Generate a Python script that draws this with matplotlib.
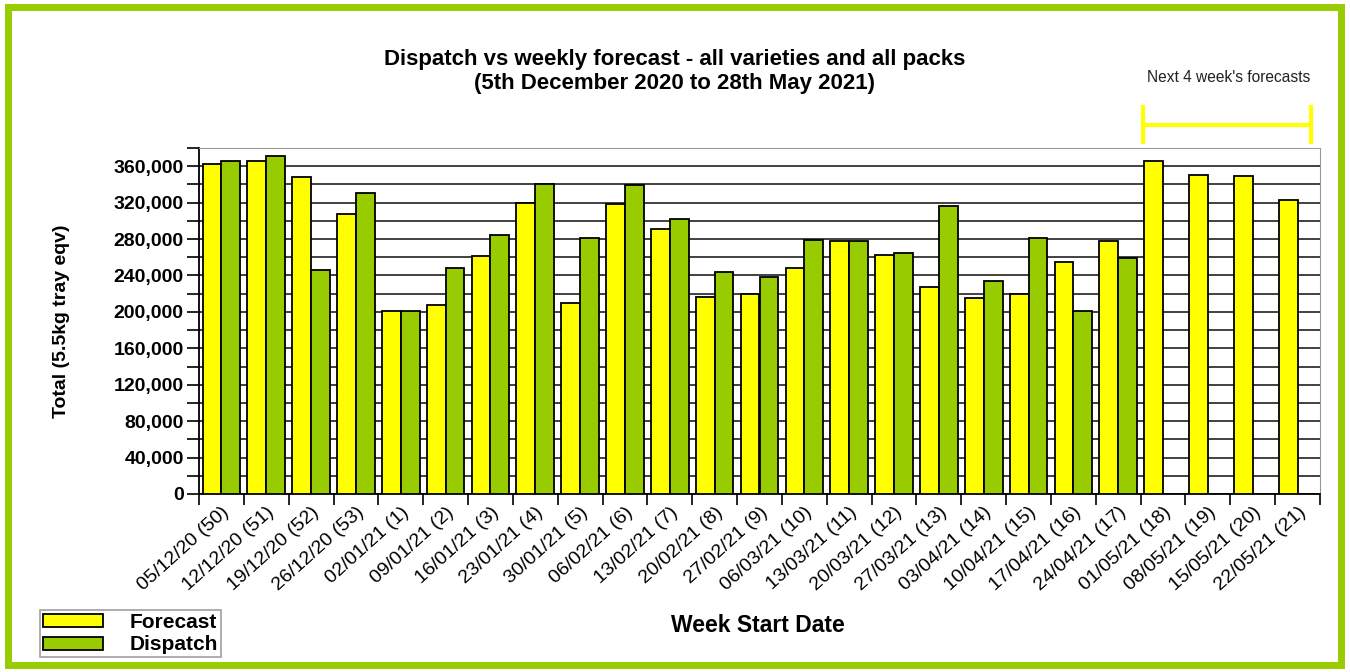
"""
Dispatch vs weekly forecast bar chart, saved as out.png.
"""

import matplotlib
matplotlib.use("Agg")
import matplotlib.pyplot as plt
from matplotlib.patches import Rectangle
from matplotlib.lines import Line2D
import numpy as np

plt.rcParams["font.family"] = ["Liberation Sans", "DejaVu Sans"]

weeks = [
    "05/12/20 (50)", "12/12/20 (51)", "19/12/20 (52)", "26/12/20 (53)",
    "02/01/21 (1)", "09/01/21 (2)", "16/01/21 (3)", "23/01/21 (4)",
    "30/01/21 (5)", "06/02/21 (6)", "13/02/21 (7)", "20/02/21 (8)",
    "27/02/21 (9)", "06/03/21 (10)", "13/03/21 (11)", "20/03/21 (12)",
    "27/03/21 (13)", "03/04/21 (14)", "10/04/21 (15)", "17/04/21 (16)",
    "24/04/21 (17)", "01/05/21 (18)", "08/05/21 (19)", "15/05/21 (20)",
    "22/05/21 (21)",
]
forecast = [
    362000, 365500, 348000, 307000, 201000, 208000, 261000, 319500,
    209500, 318500, 290500, 216500, 220000, 247700, 278000, 263000,
    227000, 215000, 219500, 254300, 278400, 365500, 350500, 348700,
    322700,
]
dispatch = [
    365500, 371000, 245500, 331000, 201000, 247700, 285000, 340000,
    281700, 339500, 302200, 244000, 238200, 278800, 278000, 264500,
    316100, 233800, 281700, 201200, 259400,
]

YELLOW = "#FFFF00"
GREEN = "#99CC00"
W, H = 1350, 672


def main():
    fig = plt.figure(figsize=(W / 100, H / 100), dpi=100)
    fig.patch.set_facecolor("white")

    # lime frame round the whole picture
    fig.patches.append(Rectangle((8 / W, 7 / H), 1333 / W, 658 / H, transform=fig.transFigure,
                                 fill=False, edgecolor=GREEN, linewidth=5))

    ax = fig.add_axes([199 / W, (H - 494) / H, 1121 / W, 346 / H])
    x = np.arange(len(weeks))
    bw = 0.42
    ax.bar(x - bw / 2, forecast, width=bw, color=YELLOW, edgecolor="black",
           linewidth=1.3, label="Forecast", zorder=3)
    xd = x[:len(dispatch)]
    ax.bar(xd + bw / 2, dispatch, width=bw, color=GREEN, edgecolor="black",
           linewidth=1.3, label="Dispatch", zorder=3)

    ax.set_xlim(-0.5, len(weeks) - 0.5)
    ax.set_ylim(0, 380000)
    ax.set_yticks(np.arange(0, 360001, 40000))
    ax.set_yticks(np.arange(0, 380001, 20000), minor=True)
    ax.set_yticklabels([f"{v:,}" for v in range(0, 360001, 40000)],
                       fontsize=14, fontweight="bold")
    ax.yaxis.grid(True, which="both", color="#333333", linewidth=1.3, zorder=0)
    ax.tick_params(axis="y", which="both", length=9, width=1.2, direction="out", pad=2)

    ax.set_xticks(x)
    ax.set_xticklabels(weeks, rotation=42, ha="right", rotation_mode="anchor", fontsize=14)
    ax.set_xticks(np.arange(-0.5, len(weeks)), minor=True)
    ax.tick_params(axis="x", which="major", length=0, pad=7)
    ax.tick_params(axis="x", which="minor", length=8, width=1.2, direction="out")
    ax.set_axisbelow(True)

    for side in ("top", "right"):
        ax.spines[side].set_color("#999999")
    for side in ("left", "bottom"):
        ax.spines[side].set_color("black")
        ax.spines[side].set_linewidth(1.3)

    ax.set_ylabel("Total (5.5kg tray eqv)", fontsize=14, fontweight="bold")
    ax.yaxis.set_label_coords((70 - 199) / 1121, 0.5)
    fig.text(758 / W, 1 - 626 / H, "Week Start Date", fontsize=16.5, fontweight="bold",
             ha="center", va="center")

    fig.text(675 / W, 1 - 59 / H, "Dispatch vs weekly forecast - all varieties and all packs",
             fontsize=16, fontweight="bold", ha="center", va="center")
    fig.text(675 / W, 1 - 84 / H, "(5th December 2020 to 28th May 2021)",
             fontsize=16, fontweight="bold", ha="center", va="center")

    # bracket over the forecast-only weeks
    fig.text(1229 / W, 1 - 77 / H, "Next 4 week's forecasts", fontsize=11.2,
             ha="center", va="center", color="#222222")
    for xs, ys in [((1143, 1311), (125, 125)), ((1143, 1143), (107, 142)),
                   ((1311, 1311), (107, 142))]:
        fig.lines.append(Line2D([v / W for v in xs], [1 - v / H for v in ys],
                                transform=fig.transFigure, color=YELLOW, linewidth=3))

    leg = fig.legend(loc="lower left", bbox_to_anchor=(40 / W, 1 - 657 / H),
                     prop={"size": 15, "weight": "bold"}, frameon=True, fancybox=False,
                     edgecolor="#888888", handlelength=2.9, handleheight=0.58,
                     borderpad=0.12, labelspacing=0.18, handletextpad=1.3, borderaxespad=0)
    leg.get_frame().set_linewidth(1.2)

    fig.savefig("out.png", dpi=100)
    plt.close(fig)


if __name__ == "__main__":
    main()
